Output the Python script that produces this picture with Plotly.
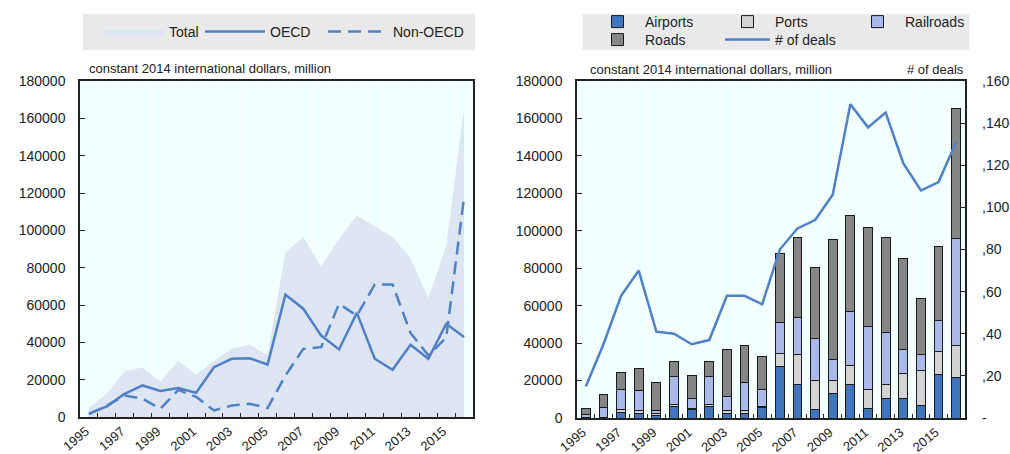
import plotly.graph_objects as go

years = list(range(1995, 2017))

# Left chart (constant 2014 international dollars, million)
total = [5000, 12500, 24500, 26500, 19000, 30200, 22500, 30200, 36700, 38800, 32900,
         88100, 96400, 80500, 95500, 108000, 102000, 96400, 85100, 63700, 91700, 165500]
oecd = [1800, 5700, 12400, 16900, 13900, 15500, 13000, 26700, 31200, 31500, 28100,
        65500, 58000, 43600, 36200, 55800, 31200, 25300, 38700, 31200, 49900, 42800]
non_oecd = [1500, 6000, 11500, 9800, 4400, 14500, 10800, 3500, 6200, 7100, 4800,
            22200, 36500, 37400, 60600, 54300, 71000, 71000, 45000, 33000, 42500, 117700]

# Right chart: stacked sectors + number of deals
airports = [300, 200, 2800, 2300, 1200, 6000, 4400, 6200, 2500, 2500, 5500,
            27500, 18000, 4300, 13100, 18000, 5000, 10300, 10300, 6500, 23400, 21600]
ports = [200, 300, 2000, 1500, 1300, 1000, 800, 1200, 1500, 1500, 500,
         6800, 16000, 15500, 6700, 10200, 10000, 7700, 13600, 18700, 12200, 17200]
railroads = [1500, 5300, 10300, 11000, 1500, 15300, 5300, 14600, 7500, 15000, 9300,
             16700, 19500, 22500, 11200, 28800, 33800, 27900, 12800, 8700, 16700, 57300]
roads = [2900, 6500, 9300, 11800, 15000, 7900, 12000, 8200, 25200, 19800, 17600,
         37100, 42900, 38200, 64500, 51000, 53200, 50500, 48400, 29800, 39400, 69400]
deals = [15, 35, 58, 70, 41, 40, 35, 37, 58, 58, 54,
         80, 90, 94, 106, 149, 138, 145, 121, 108, 112, 131]

year_labels = [str(y) if (y - 1995) % 2 == 0 else "" for y in years]
left_ticks = list(range(0, 180001, 20000))
deal_ticks = list(range(0, 161, 20))
deal_labels = ["-"] + ["," + str(v) for v in deal_ticks[1:]]

BLUE = "#4F81C4"
FILL = "#DCE5F1"
BG = "#F2FFFF"
AXC = "#222222"
FONT = "Liberation Sans, Arial, sans-serif"

fig = go.Figure()

# ---- left chart
fig.add_trace(go.Scatter(x=years, y=total, name="Total", mode="lines", fill="tozeroy",
                         fillcolor=FILL, line=dict(width=0, color=FILL),
                         xaxis="x", yaxis="y", legend="legend", legendwidth=26))
fig.add_trace(go.Scatter(x=years, y=oecd, name="OECD", mode="lines",
                         line=dict(color=BLUE, width=2.5),
                         xaxis="x", yaxis="y", legend="legend", legendwidth=48))
fig.add_trace(go.Scatter(x=years, y=non_oecd, name="Non-OECD", mode="lines",
                         line=dict(color=BLUE, width=2.5, dash="13px,7px"),
                         xaxis="x", yaxis="y", legend="legend"))

# ---- right chart
bar_line = dict(color="#1a1a1a", width=1)
for name, vals, col, lg in [("Airports", airports, "#3F75BA", "legend2"),
                            ("Ports", ports, "#D3D3D3", "legend2"),
                            ("Railroads", railroads, "#A8B9EA", "legend2"),
                            ("Roads", roads, "#868686", "legend3")]:
    fig.add_trace(go.Bar(x=years, y=vals, name=name, marker=dict(color=col, line=bar_line),
                         width=0.5, xaxis="x2", yaxis="y2", legend=lg))
fig.add_trace(go.Scatter(x=years, y=deals, name="# of deals", mode="lines",
                         line=dict(color=BLUE, width=2.5),
                         xaxis="x2", yaxis="y3", legend="legend3"))

xcommon = dict(range=[1994.5, 2016.5], tickmode="array", tickvals=years, ticktext=year_labels,
               tickangle=-40, ticks="", showline=True, mirror=True, linecolor=AXC, linewidth=1.5,
               showgrid=False, zeroline=False, tickfont=dict(size=13, color=AXC),
               ticklabelstandoff=0, ticklabelshift=-3, automargin=False,
               minor=dict(tickmode="array", tickvals=[y + 0.5 for y in years[:-1]],
                          ticks="inside", ticklen=4, tickcolor=AXC, tickwidth=1,
                          showgrid=True, gridcolor="white", gridwidth=1))
ycommon = dict(range=[0, 180000], tickmode="array", tickvals=left_ticks, tickformat="d",
               ticks="inside", ticklen=5, tickcolor=AXC, showline=True, mirror=True,
               linecolor=AXC, linewidth=1.5, showgrid=False, zeroline=False,
               tickfont=dict(size=14, color=AXC), ticklabelstandoff=10, automargin=False)

leg_common = dict(orientation="h", xanchor="left", yanchor="middle",
                  bgcolor="rgba(0,0,0,0)", font=dict(size=14, color=AXC),
                  traceorder="normal")

fig.update_layout(
    width=1010, height=454, margin=dict(l=0, r=0, t=0, b=0, autoexpand=False),
    paper_bgcolor="white", plot_bgcolor=BG, barmode="stack",
    font=dict(family=FONT, size=13, color=AXC),
    xaxis=dict(domain=[80/1010, 473/1010], anchor="y", **xcommon),
    yaxis=dict(domain=[37/454, 373/454], anchor="x", **ycommon),
    xaxis2=dict(domain=[577/1010, 965/1010], anchor="y2", **xcommon),
    yaxis2=dict(domain=[36/454, 373/454], anchor="x2", **ycommon),
    yaxis3=dict(overlaying="y2", anchor="x2", side="right", range=[0, 160],
                tickmode="array", tickvals=deal_ticks, ticktext=deal_labels,
                ticks="inside", ticklen=5, tickcolor=AXC, showgrid=False, zeroline=False,
                showline=False, tickfont=dict(size=14, color=AXC), ticklabelstandoff=16,
                automargin=False),
    legend=dict(x=99/1010, y=1 - 32/454, itemwidth=60, **leg_common),
    legend2=dict(x=590/1010, y=1 - 22/454, itemwidth=45, entrywidth=70, **leg_common),
    legend3=dict(x=590/1010, y=1 - 40/454, itemwidth=45, entrywidth=70, **leg_common),
    shapes=[
        dict(type="rect", xref="paper", yref="paper", x0=83/1010, x1=475/1010,
             y0=1 - 50/454, y1=1 - 14/454, fillcolor="#E9E9E9", line=dict(width=0), layer="below"),
        dict(type="rect", xref="paper", yref="paper", x0=583/1010, x1=969/1010,
             y0=1 - 50/454, y1=1 - 14/454, fillcolor="#E9E9E9", line=dict(width=0), layer="below"),
    ],
    annotations=[
        dict(text="constant 2014 international dollars, million", x=87/1010, y=1 - 69/454,
             xref="paper", yref="paper", xanchor="left", yanchor="middle", showarrow=False,
             font=dict(size=13, color=AXC)),
        dict(text="constant 2014 international dollars, million", x=588/1010, y=1 - 70/454,
             xref="paper", yref="paper", xanchor="left", yanchor="middle", showarrow=False,
             font=dict(size=13, color=AXC)),
        dict(text="# of deals", x=966/1010, y=1 - 70/454,
             xref="paper", yref="paper", xanchor="right", yanchor="middle", showarrow=False,
             font=dict(size=13, color=AXC)),
    ],
)

fig.write_html("out.html", config={"displayModeBar": False},
               post_script="document.body.style.margin='0';document.body.style.overflow='hidden';")
